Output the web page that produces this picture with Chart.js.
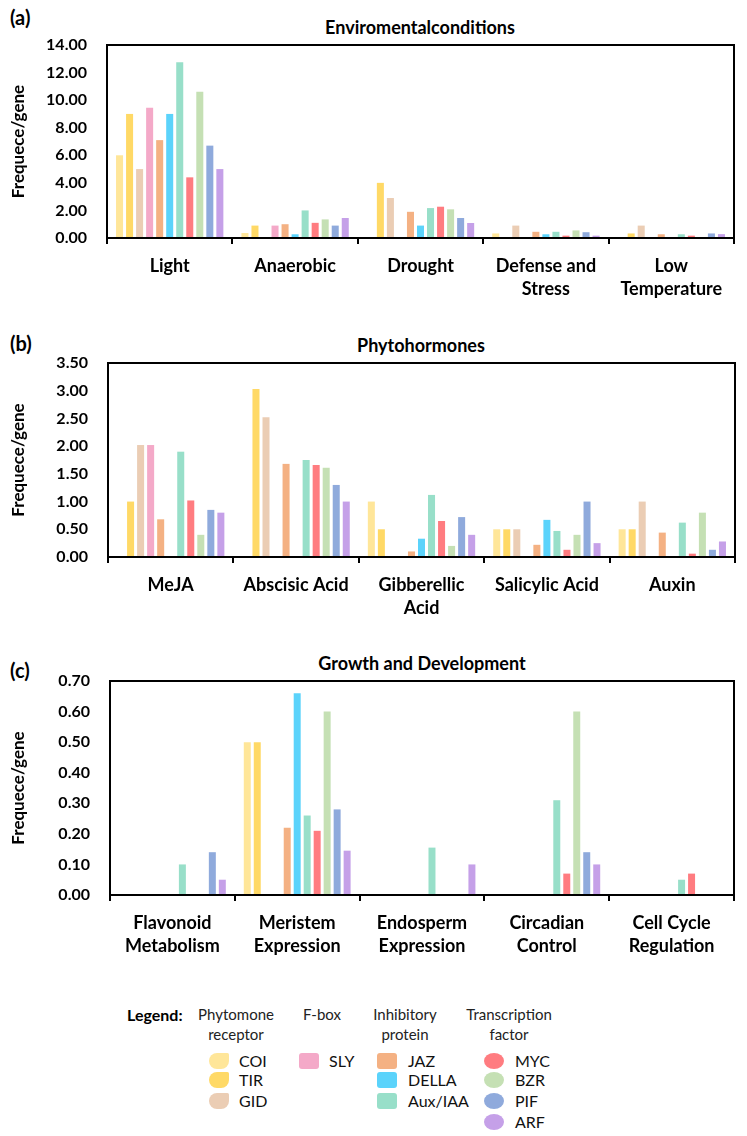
<!DOCTYPE html>
<html>
<head>
<meta charset="utf-8">
<script src="https://cdn.jsdelivr.net/npm/chart.js@4"></script>
<style>
  body { margin: 0; background: #fff; font-family: Lato, "Open Sans", sans-serif; }
  #page { position: relative; width: 747px; height: 1136px; overflow: hidden; }
  canvas { position: absolute; left: 0; }
  .t { position: absolute; font-weight: bold; color: #000; white-space: nowrap; line-height: 22px; }
  .panel { font-size: 20px; left: 10px; line-height: 24px; }
  .title { font-size: 18px; transform: translateX(-50%); }
  .hdr { position: absolute; font-size: 15px; text-align: center; line-height: 20px; transform: translateX(-50%); color: #222; white-space: nowrap; }
  .item { position: absolute; font-size: 16px; line-height: 18px; color: #111; }
  .sw { position: absolute; width: 20px; height: 16px; }
  .drop { border-radius: 10px 2px 10px 10px; }
  .sq { border-radius: 3px; }
  .dot { border-radius: 50%; }
</style>
</head>
<body>
<div id="page">
  <div class="t panel" style="top:5px">(a)</div>
  <div class="t title" style="left:420px;top:16px">Enviromentalconditions</div>
  <div class="t panel" style="top:331px">(b)</div>
  <div class="t title" style="left:421px;top:334px">Phytohormones</div>
  <div class="t panel" style="top:658px">(c)</div>
  <div class="t title" style="left:422px;top:652px">Growth and Development</div>

  <canvas id="envChart"></canvas>
  <canvas id="hormChart"></canvas>
  <canvas id="growChart"></canvas>

  <div id="legend"></div>
</div>
<script>
// series (gene families) and colours
const series = ["COI", "TIR", "GID", "SLY", "JAZ", "DELLA", "Aux/IAA", "MYC", "BZR", "PIF", "ARF"];
const colors = ["#FFE699", "#FFD966", "#EBCDB4", "#F4A9C8", "#F4B183", "#5BD3FB",
                "#98DFC9", "#FF7C80", "#C5E0B4", "#8FAADC", "#C5A0E8"];

// (a) Enviromental conditions
const envLabels = ["Light", "Anaerobic", "Drought", ["Defense and", "Stress"], ["Low", "Temperature"]];
const envCOI   = [6.00, 0.36, 0.00, 0.33, 0.00];
const envTIR   = [9.00, 0.90, 4.00, 0.00, 0.33];
const envGID   = [5.00, 0.00, 2.90, 0.90, 0.90];
const envSLY   = [9.45, 0.90, 0.00, 0.00, 0.00];
const envJAZ   = [7.10, 1.00, 1.90, 0.45, 0.27];
const envDELLA = [9.00, 0.27, 0.90, 0.27, 0.00];
const envAUX   = [12.75, 2.00, 2.17, 0.45, 0.27];
const envMYC   = [4.40, 1.10, 2.27, 0.17, 0.17];
const envBZR   = [10.60, 1.35, 2.08, 0.55, 0.07];
const envPIF   = [6.70, 0.90, 1.45, 0.42, 0.33];
const envARF   = [5.00, 1.45, 1.09, 0.17, 0.28];

// (b) Phytohormones
const hormLabels = ["MeJA", "Abscisic Acid", ["Gibberellic", "Acid"], "Salicylic Acid", "Auxin"];
const hormCOI   = [0.00, 0.00, 1.00, 0.50, 0.50];
const hormTIR   = [1.00, 3.03, 0.50, 0.50, 0.50];
const hormGID   = [2.02, 2.52, 0.00, 0.50, 1.00];
const hormSLY   = [2.02, 0.00, 0.00, 0.00, 0.00];
const hormJAZ   = [0.68, 1.68, 0.10, 0.22, 0.44];
const hormDELLA = [0.00, 0.00, 0.33, 0.67, 0.00];
const hormAUX   = [1.90, 1.75, 1.12, 0.47, 0.62];
const hormMYC   = [1.02, 1.66, 0.65, 0.13, 0.06];
const hormBZR   = [0.40, 1.61, 0.20, 0.40, 0.80];
const hormPIF   = [0.85, 1.30, 0.72, 1.00, 0.13];
const hormARF   = [0.80, 1.00, 0.40, 0.25, 0.28];

// (c) Growth and Development
const growLabels = [["Flavonoid", "Metabolism"], ["Meristem", "Expression"], ["Endosperm", "Expression"],
                    ["Circadian", "Control"], ["Cell Cycle", "Regulation"]];
const growCOI   = [0.00, 0.50, 0.00, 0.00, 0.00];
const growTIR   = [0.00, 0.50, 0.00, 0.00, 0.00];
const growGID   = [0.00, 0.00, 0.00, 0.00, 0.00];
const growSLY   = [0.00, 0.00, 0.00, 0.00, 0.00];
const growJAZ   = [0.00, 0.22, 0.00, 0.00, 0.00];
const growDELLA = [0.00, 0.66, 0.00, 0.00, 0.00];
const growAUX   = [0.10, 0.26, 0.155, 0.31, 0.05];
const growMYC   = [0.00, 0.21, 0.00, 0.07, 0.07];
const growBZR   = [0.00, 0.60, 0.00, 0.60, 0.00];
const growPIF   = [0.14, 0.28, 0.00, 0.14, 0.00];
const growARF   = [0.05, 0.145, 0.10, 0.10, 0.00];

// y axis ticks
const envMax = 14, envStep = 2;
const hormMax = 3.5, hormStep = 0.5;
const growMax = 0.7, growStep = 0.1;

const FONT = "Lato, 'Open Sans', sans-serif";

// 그림영역 테두리 (위/오른쪽까지 닫힌 상자)
const boxPlugin = {
  id: "box",
  afterDraw(chart) {
    const { ctx, chartArea: a } = chart;
    ctx.save();
    ctx.strokeStyle = "#000";
    ctx.lineWidth = 2;
    ctx.strokeRect(a.left, a.top, a.right - a.left, a.bottom - a.top);
    ctx.restore();
  }
};

function makeChart(id, top, height, pad, labels, rows, max, step) {
  const cv = document.getElementById(id);
  cv.width = 747; cv.height = height;
  cv.style.top = top + "px";
  cv.style.width = "747px";
  cv.style.height = height + "px";
  return new Chart(cv, {
    type: "bar",
    data: {
      labels,
      datasets: series.map((s, i) => ({
        label: s, data: rows[i], backgroundColor: colors[i], borderWidth: 0,
        categoryPercentage: 0.88, barPercentage: 0.7
      }))
    },
    options: {
      responsive: false, animation: false,
      layout: { padding: { top: pad.top, right: pad.right, left: 0, bottom: 0 } },
      plugins: { legend: { display: false }, tooltip: { enabled: false } },
      scales: {
        x: {
          afterFit: s => { s.height = pad.xh; },
          grid: { display: true, drawOnChartArea: false, drawTicks: true, tickLength: 6, color: "#000", lineWidth: 2 },
          border: { display: true, color: "#000", width: 2 },
          ticks: { color: "#000", padding: 11, maxRotation: 0, autoSkip: false,
                   font: { family: FONT, size: 18, weight: "bold", lineHeight: 1.28 } }
        },
        y: {
          min: 0, max,
          afterFit: s => { s.width = pad.left; },
          grid: { display: false },
          border: { display: true, color: "#000", width: 2 },
          ticks: { stepSize: step, color: "#000", padding: 12,
                   font: { family: FONT, size: 16, weight: "bold" },
                   callback: v => Number(v).toFixed(2) },
          title: { display: true, text: "Frequece/gene", color: "#000",
                   font: { family: FONT, size: 17, weight: "bold" }, padding: { top: 8, bottom: 0 } }
        }
      }
    },
    plugins: [boxPlugin]
  });
}

makeChart("envChart", 0, 300, { top: 45, right: 13, left: 107, xh: 62 }, envLabels,
  [envCOI, envTIR, envGID, envSLY, envJAZ, envDELLA, envAUX, envMYC, envBZR, envPIF, envARF], envMax, envStep);
makeChart("hormChart", 300, 320, { top: 63, right: 12, left: 108, xh: 63 }, hormLabels,
  [hormCOI, hormTIR, hormGID, hormSLY, hormJAZ, hormDELLA, hormAUX, hormMYC, hormBZR, hormPIF, hormARF], hormMax, hormStep);
makeChart("growChart", 620, 360, { top: 61, right: 13, left: 110, xh: 85 }, growLabels,
  [growCOI, growTIR, growGID, growSLY, growJAZ, growDELLA, growAUX, growMYC, growBZR, growPIF, growARF], growMax, growStep);

/* ===== 범례 (HTML) ===== */
const groups = [
  { head: ["Phytomone", "receptor"], cx: 236, sx: 209, lx: 239, shape: "drop", items: [0, 1, 2] },
  { head: ["F-box"], cx: 322, sx: 299, lx: 329, shape: "sq", items: [3] },
  { head: ["Inhibitory", "protein"], cx: 405, sx: 377, lx: 408, shape: "sq", items: [4, 5, 6] },
  { head: ["Transcription", "factor"], cx: 509, sx: 484, lx: 515, shape: "dot", items: [7, 8, 9, 10] },
];
const rowY = [1061, 1080, 1101, 1122];
const lg = document.getElementById("legend");
let html = `<div class="t" style="left:127px;top:1004px;font-size:16px">Legend:</div>`;
for (const g of groups) {
  html += `<div class="hdr" style="left:${g.cx}px;top:1004px">${g.head.join("<br>")}</div>`;
  g.items.forEach((si, k) => {
    const y = rowY[k];
    html += `<div class="sw ${g.shape}" style="left:${g.sx}px;top:${y - 8}px;background:${colors[si]}"></div>`;
    html += `<div class="item" style="left:${g.lx}px;top:${y - 9}px">${series[si]}</div>`;
  });
}
lg.innerHTML = html;
</script>
</body>
</html>
